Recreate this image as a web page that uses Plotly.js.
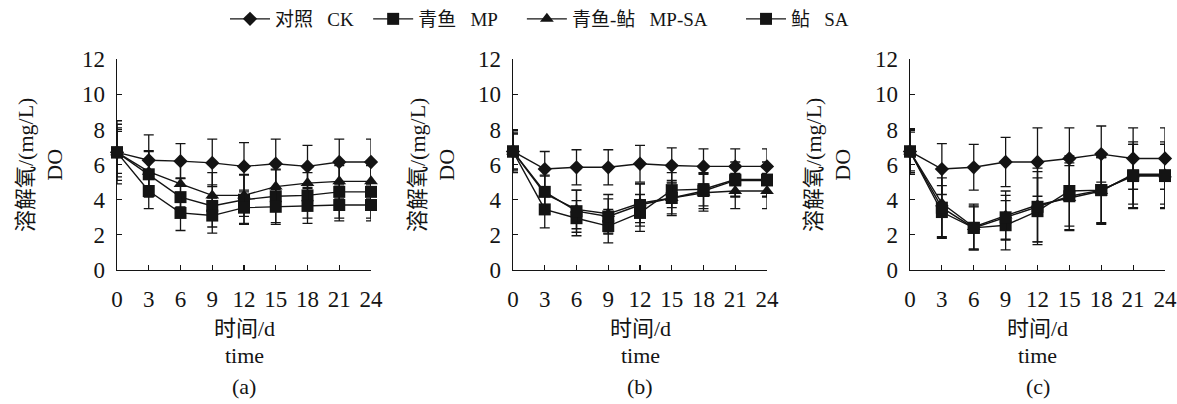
<!DOCTYPE html>
<html>
<head>
<meta charset="utf-8">
<script src="https://cdn.plot.ly/plotly-3.0.1.min.js"></script>
<style>html,body{margin:0;padding:0;background:#fff;}#chart{width:1177px;height:404px;}</style>
</head>
<body>
<div id="chart"></div>
<script>
// ---- data ----
const days = [0, 3, 6, 9, 12, 15, 18, 21, 24];
const xTickLabels = ["0", "3", "6", "9", "12", "15", "18", "21", "24"];
const seriesNames = ["对照\u00a0\u00a0\u00a0CK\u00a0\u00a0", "青鱼\u00a0\u00a0\u00a0MP\u00a0\u00a0\u00a0\u00a0", "青鱼-鲇\u00a0\u00a0\u00a0MP-SA\u00a0\u00a0\u00a0\u00a0\u00a0\u00a0", "鲇\u00a0\u00a0\u00a0SA"];
const panelLabels = ["(a)", "(b)", "(c)"];

// panel (a)
const a_CK   = [6.7, 6.25, 6.2, 6.1, 5.9, 6.05, 5.9, 6.15, 6.15];
const a_MP   = [6.7, 5.45, 4.15, 3.65, 4.0, 4.2, 4.25, 4.45, 4.45];
const a_MPSA = [6.7, 5.6, 4.9, 4.25, 4.25, 4.75, 4.95, 5.05, 5.05];
const a_SA   = [6.7, 4.5, 3.25, 3.1, 3.55, 3.6, 3.65, 3.7, 3.7];
const a_CK_err   = [1.2, 1.45, 1.0, 1.35, 1.35, 1.4, 1.2, 1.3, 1.3];
const a_MP_err   = [1.6, 1.3, 1.1, 1.2, 1.4, 1.5, 1.3, 1.5, 1.5];
const a_MPSA_err = [1.4, 1.2, 1.3, 1.3, 1.2, 1.0, 1.0, 1.0, 1.0];
const a_SA_err   = [1.8, 1.0, 1.0, 1.0, 0.9, 1.0, 1.0, 0.9, 0.9];

// panel (b)
const b_CK   = [6.75, 5.75, 5.85, 5.85, 6.05, 5.95, 5.9, 5.9, 5.9];
const b_MP   = [6.75, 3.45, 2.95, 2.5, 3.25, 4.55, 4.6, 5.15, 5.15];
const b_MPSA = [6.75, 4.35, 3.45, 3.2, 3.8, 4.1, 4.4, 4.5, 4.5];
const b_SA   = [6.75, 4.45, 3.35, 3.05, 3.7, 4.1, 4.5, 5.1, 5.1];
const b_CK_err   = [1.0, 1.0, 1.0, 1.0, 1.05, 1.0, 1.0, 1.0, 1.0];
const b_MP_err   = [1.2, 1.05, 1.0, 0.95, 1.05, 1.0, 0.95, 1.0, 1.0];
const b_MPSA_err = [1.0, 1.0, 1.1, 1.1, 1.1, 1.0, 1.05, 1.0, 1.0];
const b_SA_err   = [1.1, 0.95, 1.2, 1.0, 1.2, 0.9, 1.0, 0.9, 0.9];

// panel (c)
const c_CK   = [6.75, 5.75, 5.85, 6.15, 6.15, 6.35, 6.6, 6.35, 6.35];
const c_MP   = [6.75, 3.3, 2.4, 2.55, 3.35, 4.5, 4.55, 5.35, 5.35];
const c_MPSA = [6.75, 3.8, 2.45, 3.1, 3.7, 4.1, 4.5, 5.45, 5.45];
const c_SA   = [6.75, 3.55, 2.4, 3.0, 3.6, 4.2, 4.55, 5.4, 5.4];
const c_CK_err   = [1.3, 1.45, 1.3, 1.4, 1.95, 1.75, 1.6, 1.75, 1.75];
const c_MP_err   = [1.3, 1.5, 1.25, 1.4, 1.9, 2.0, 1.9, 1.8, 1.8];
const c_MPSA_err = [1.2, 1.9, 1.3, 1.4, 2.1, 1.85, 1.9, 1.7, 1.7];
const c_SA_err   = [1.1, 1.7, 1.2, 1.25, 2.0, 1.9, 1.85, 1.9, 1.9];

const panels = [
  [[a_CK, a_CK_err], [a_MP, a_MP_err], [a_MPSA, a_MPSA_err], [a_SA, a_SA_err]],
  [[b_CK, b_CK_err], [b_MP, b_MP_err], [b_MPSA, b_MPSA_err], [b_SA, b_SA_err]],
  [[c_CK, c_CK_err], [c_MP, c_MP_err], [c_MPSA, c_MPSA_err], [c_SA, c_SA_err]]
];

// ---- style ----
const W = 1177, H = 404;
const ink = "#141414";
const FONT = "'Liberation Serif', 'Noto Sans CJK SC', serif";
const LATIN = "'Liberation Serif'";
const symbols = ["diamond", "square", "triangle-up", "square"];
const sizes = [11, 12, 12, 12];
const xPix = [[117, 371], [513, 767], [910, 1165]];
const yTitleX = [40, 432, 828];
const yDom = [(H - 270) / H, (H - 59.3) / H];

const traces = [];
panels.forEach((series, p) => {
  series.forEach((s, i) => {
    traces.push({
      type: "scatter", mode: "lines+markers",
      x: days, y: s[0],
      name: seriesNames[i],
      legendgroup: "g" + i,
      showlegend: p === 0,
      xaxis: p === 0 ? "x" : "x" + (p + 1),
      yaxis: p === 0 ? "y" : "y" + (p + 1),
      cliponaxis: false,
      line: {color: ink, width: 1.4},
      marker: {symbol: symbols[i], size: sizes[i], color: ink},
      error_y: {type: "data", array: s[1], visible: true, color: ink, thickness: 1.3, width: 5}
    });
  });
});

const layout = {
  width: W, height: H,
  margin: {l: 0, r: 0, t: 0, b: 0},
  paper_bgcolor: "#fff", plot_bgcolor: "rgba(0,0,0,0)",
  font: {family: FONT, size: 22, color: ink},
  showlegend: true,
  legend: {
    orientation: "h", x: 225 / W, xanchor: "left", y: 1.0, yanchor: "top",
    font: {family: FONT, size: 19, color: ink},
    itemwidth: 40, tracegroupgap: 0
  },
  annotations: []
};

for (let p = 0; p < 3; p++) {
  const xs = p === 0 ? "" : String(p + 1);
  layout["xaxis" + xs] = {
    domain: [xPix[p][0] / W, xPix[p][1] / W],
    range: [0, 24], tickvals: days, ticktext: xTickLabels,
    anchor: "y" + xs, ticks: "inside", ticklen: 5, tickwidth: 1.2, tickcolor: ink,
    showline: true, linecolor: ink, linewidth: 1.3,
    showgrid: false, zeroline: false, ticklabelstandoff: 8,
    tickfont: {family: LATIN, size: 23, color: ink}
  };
  layout["yaxis" + xs] = {
    domain: yDom, range: [0, 12], dtick: 2, tick0: 0,
    anchor: "x" + xs, ticks: "inside", ticklen: 5, tickwidth: 1.2, tickcolor: ink,
    showline: true, linecolor: ink, linewidth: 1.3,
    showgrid: false, zeroline: false, ticklabelstandoff: 6,
    tickfont: {family: LATIN, size: 23, color: ink}
  };
  const cx = (xPix[p][0] + xPix[p][1]) / 2 / W;
  layout.annotations.push({
    xref: "paper", yref: "paper", x: cx, y: 1 - 328 / H, xanchor: "center", yanchor: "middle",
    text: "时间/d", showarrow: false, font: {family: FONT, size: 22, color: ink}
  });
  layout.annotations.push({
    xref: "paper", yref: "paper", x: cx, y: 1 - 355 / H, xanchor: "center", yanchor: "middle",
    text: "time", showarrow: false, font: {family: LATIN, size: 22, color: ink}
  });
  layout.annotations.push({
    xref: "paper", yref: "paper", x: cx, y: 1 - 386 / H, xanchor: "center", yanchor: "middle",
    text: panelLabels[p], showarrow: false, font: {family: LATIN, size: 22, color: ink}
  });
  layout.annotations.push({
    xref: "paper", yref: "paper", x: yTitleX[p] / W, y: 1 - 165 / H, xanchor: "center", yanchor: "middle",
    text: "溶解氧/(mg/L)<br>DO", textangle: -90, showarrow: false,
    font: {family: FONT, size: 22, color: ink}
  });
}

Plotly.newPlot("chart", traces, layout, {displayModeBar: false, staticPlot: true});
</script>
</body>
</html>
